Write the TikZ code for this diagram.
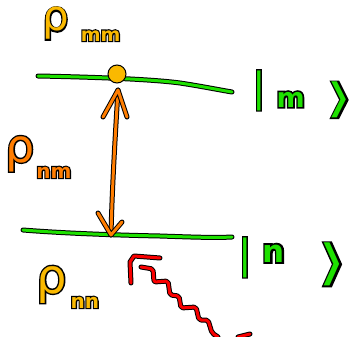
\documentclass[tikz,border=0pt]{standalone}
\usepackage{fontspec}
\setmainfont{DejaVu Sans}
\newfontfamily\colbig{DejaVu Sans}
\newfontfamily\colsmall{DejaVu Sans Bold}
\newfontfamily\olbig{DejaVu Sans}[FakeBold=6]
\newfontfamily\olsmall{DejaVu Sans Bold}[FakeBold=12]
\usepackage{graphicx}
\definecolor{lvgreen}{RGB}{30,225,0}
\definecolor{gold}{RGB}{250,185,0}
\definecolor{arrorange}{RGB}{255,125,0}
\definecolor{photred}{RGB}{250,0,0}
\newcommand{\BF}{}
\newcommand{\SF}{}
\newcommand{\dlabel}[4]{%
  \node[lbl, text=black] at #2 {\let\BF\olbig\let\SF\olsmall #4};
  \node[lbl, text=#3] (#1) at #2 {\let\BF\colbig\let\SF\colsmall #4};}
\tikzset{
  hand/.style={line width=3pt, line cap=round, line join=round,
    preaction={draw=black, line width=5pt, line cap=round, line join=round}},
  level/.style={hand, draw=lvgreen},
  trans/.style={hand, draw=arrorange},
  photon/.style={hand, draw=photred},
  lbl/.style={inner sep=0pt, anchor=base west},
}
\begin{document}
\begin{tikzpicture}[x=1pt, y=-1pt]
\useasboundingbox (0,0) rectangle (356,337);
% level endpoints
\coordinate (mL) at (38,76);
\coordinate (mR) at (232,92);
\coordinate (nL) at (23,230);
\coordinate (nR) at (232,237);
% upper level m
\draw[level] (mL) .. controls (90,77) and (150,79) .. (180,83) .. controls (200,86) and (220,90) .. (mR);
% lower level n
\draw[level] (nL) .. controls (60,233) and (110,235) .. (160,236) .. controls (190,237) and (215,238) .. (nR);
% transition arrow
\coordinate (aT) at (118,90);
\coordinate (aB) at (111,235);
\draw[trans] (aT) .. controls (115,140) and (112,190) .. (aB);
\draw[trans] (103,117) -- (aT) -- (127,117);
\draw[trans] (98,213) -- (aB) -- (122,222);
% population dot
\node[circle, fill=gold, draw=black, line width=1pt, minimum size=18pt, inner sep=0pt] (dot) at (117,74) {};
% photon
\coordinate (pS) at (131,283);
\coordinate (pE) at (160,258);
\draw[photon] (pS) -- (130,262) -- (134,256) -- (pE);
\coordinate (zS) at (141,267);
\coordinate (zE) at (218,337);
\draw[photon, rounded corners=2pt] (zS) -- (153,269) -- (154,282) -- (168,281) -- (170,295) -- (179,296) -- (181,308) -- (196,307) -- (199,320) -- (208,320) -- (212,333) -- (zE);
\coordinate (rA) at (238,337);
\coordinate (rB) at (250,334);
\draw[photon] (rA) -- (rB);
% labels
\dlabel{rmm}{(42,31)}{gold}{\BF\fontsize{42}{42}\selectfont ρ\hspace{12pt}\raisebox{-10pt}{\SF\fontsize{19}{19}\selectfont mm}}
\dlabel{rnm}{(5,162)}{arrorange}{\BF\fontsize{46}{46}\selectfont ρ\hspace{2pt}\raisebox{-16pt}{\SF\fontsize{20}{20}\selectfont nm}}
\dlabel{rnn}{(36,293)}{gold}{\BF\fontsize{48}{48}\selectfont ρ\hspace{4pt}\raisebox{-15pt}{\SF\fontsize{20}{20}\selectfont nn}}
\dlabel{ketm}{(252,101)}{lvgreen}{\BF\fontsize{40}{40}\selectfont |\hspace{11pt}\raisebox{-6pt}{\SF\fontsize{27}{27}\selectfont m}\hspace{22pt}\raisebox{-11.5pt}{\scalebox{1.5}[0.92]{\BF\fontsize{44}{44}\selectfont ⟩}}}
\dlabel{ketn}{(238,268)}{lvgreen}{\BF\fontsize{40}{40}\selectfont |\hspace{11pt}\raisebox{6pt}{\SF\fontsize{31}{31}\selectfont n}\hspace{34pt}\raisebox{-11.5pt}{\scalebox{1.6}[1.1]{\BF\fontsize{44}{44}\selectfont ⟩}}}
\end{tikzpicture}
\end{document}
